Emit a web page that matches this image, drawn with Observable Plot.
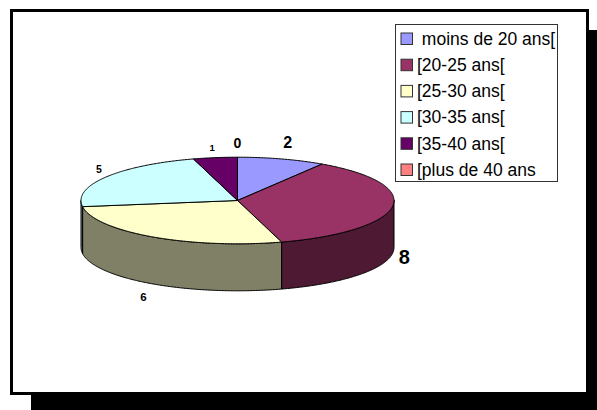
<!DOCTYPE html>
<html>
<head>
<meta charset="utf-8">
<style>html,body{margin:0;padding:0;background:#fff;overflow:hidden}svg{display:block}</style>
<script src="https://cdn.jsdelivr.net/npm/d3@7"></script>
<script src="https://cdn.jsdelivr.net/npm/@observablehq/plot@0.6"></script>
</head>
<body>
<script>
const categories = [" moins de 20 ans[", "[20-25 ans[", "[25-30 ans[", "[30-35 ans[", "[35-40 ans[", "[plus de 40 ans"];
const values = [2, 8, 6, 5, 1, 0];
const topColors = ["#9999ff", "#993366", "#ffffcc", "#ccffff", "#660066", "#ff8080"];
const sideColors = ["#4d4d80", "#4d1933", "#808066", "#668080", "#330033", "#804040"];

// layout
const W = 597, H = 410;
const pie = {cx: 237, cy: 200, rx: 156.5, ry: 43.3, depth: 47};
const labelLayout = [
  {dx: 6, dy: -16.5, size: 16},
  {dx: 12, dy: 51, size: 20},
  {dx: -9.5, dy: 60.6, size: 11.5},
  {dx: -7, dy: -7.6, size: 10.5},
  {dx: -3, dy: -10, size: 9.5},
  {dx: 0, dy: -13.7, size: 14}
];
const legendBox = {x1: 395.5, x2: 557.5, y1: 24.5, y2: 181.5, rowTop: 33, rowStep: 26.2, swatch: 11.5, sx: 401, tx: 416.5};

const arcs = d3.pie().sort(null).value(d => d).startAngle(0).endAngle(2 * Math.PI)(values);
const px = a => pie.cx + pie.rx * Math.sin(a);
const py = a => pie.cy - pie.ry * Math.cos(a);
const samples = (a0, a1) => {
  const n = Math.max(1, Math.ceil((a1 - a0) / 0.01));
  return d3.range(n + 1).map(i => a0 + (a1 - a0) * i / n);
};

const tops = [], sides = [];
arcs.forEach((arc, i) => {
  if (arc.endAngle <= arc.startAngle) return;
  const ring = samples(arc.startAngle, arc.endAngle).map(a => ({x: px(a), y: py(a), category: categories[i]}));
  const c = {x: pie.cx, y: pie.cy, category: categories[i]};
  tops.push(...[c, ...ring, c]);
  const a0 = Math.max(arc.startAngle, Math.PI / 2), a1 = Math.min(arc.endAngle, 3 * Math.PI / 2);
  if (a1 > a0) {
    const s = samples(a0, a1);
    const wall = [...s.map(a => ({x: px(a), y: py(a)})), ...s.slice().reverse().map(a => ({x: px(a), y: py(a) + pie.depth}))];
    wall.push(wall[0]);
    sides.push({fill: sideColors[i], wall});
  }
});

const labels = arcs.map((arc, i) => {
  const mid = (arc.startAngle + arc.endAngle) / 2;
  const l = labelLayout[i];
  return {x: px(mid) + l.dx, y: py(mid) + l.dy, size: l.size, text: String(values[i])};
});

const legendRows = categories.map((c, i) => ({
  category: c,
  y1: legendBox.rowTop + i * legendBox.rowStep,
  y2: legendBox.rowTop + i * legendBox.rowStep + legendBox.swatch
}));

const chart = Plot.plot({
  width: W, height: H, margin: 0,
  style: {background: "#fff", fontFamily: "'Liberation Sans', Arial, sans-serif", color: "#000"},
  x: {type: "linear", domain: [0, W], range: [0, W], axis: null},
  y: {type: "linear", domain: [0, H], range: [0, H], axis: null},
  color: {type: "ordinal", domain: categories, range: topColors},
  marks: [
    Plot.rect([{}], {x1: 31, x2: W, y1: 30, y2: H, fill: "#000"}),
    Plot.rect([{}], {x1: 11.5, x2: 587.5, y1: 10.5, y2: 393.5, fill: "#fff", stroke: "#000", strokeWidth: 3}),
    ...sides.map(s => Plot.line(s.wall, {x: "x", y: "y", fill: s.fill, stroke: "#000", strokeWidth: 1, curve: "linear"})),
    Plot.line(tops, {x: "x", y: "y", z: "category", fill: "category", stroke: "#000", strokeWidth: 1, curve: "linear"}),
    Plot.text(labels, {x: "x", y: "y", text: "text", fontSize: "size", fontWeight: "bold", fill: "#000", textAnchor: "middle", lineAnchor: "middle"}),
    Plot.rect([{}], {x1: legendBox.x1, x2: legendBox.x2, y1: legendBox.y1, y2: legendBox.y2, fill: "#fff", stroke: "#333", strokeWidth: 1}),
    Plot.rect(legendRows, {x1: legendBox.sx, x2: legendBox.sx + legendBox.swatch, y1: "y1", y2: "y2", fill: "category", stroke: "#333", strokeWidth: 1}),
    Plot.text(legendRows, {x: legendBox.tx, y: d => (d.y1 + d.y2) / 2, text: "category", fontSize: 17.5, fill: "#000", textAnchor: "start", lineAnchor: "middle"})
  ]
});
document.body.appendChild(chart);
</script>
</body>
</html>
